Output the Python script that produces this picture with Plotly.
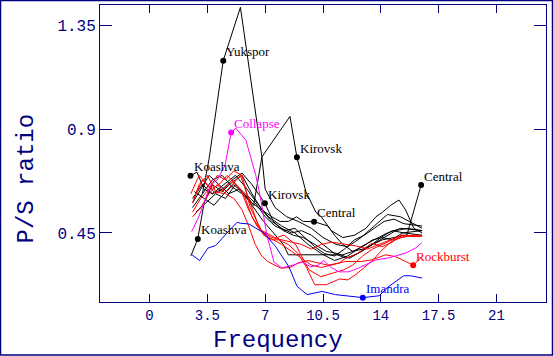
import plotly.graph_objects as go

NAVY = "#000080"

# ---- data ----
yukspor_x = [3.2, 3.6, 4.46, 5.5, 6.8, 7.0, 7.6, 8.3, 9.0, 9.8, 10.5, 11.3, 12.0, 12.8, 13.6, 14.4, 15.2, 16.5]
yukspor_y = [0.62, 0.77, 1.198, 1.43, 0.78, 0.64, 0.56, 0.52, 0.50, 0.47, 0.43, 0.40, 0.39, 0.43, 0.48, 0.53, 0.52, 0.47]

kirovsk1_x = [2.6, 3.1, 3.6, 4.2, 4.8, 5.4, 6.0, 6.3, 6.8, 8.5, 8.92, 9.46, 10.07, 10.4, 11.0, 11.7, 12.4, 13.1, 13.7, 14.1, 14.6, 15.1, 15.5, 16.0, 16.5]
kirovsk1_y = [0.58, 0.64, 0.70, 0.66, 0.62, 0.64, 0.60, 0.57, 0.78, 0.956, 0.779, 0.63, 0.54, 0.52, 0.46, 0.43, 0.44, 0.47, 0.52, 0.54, 0.57, 0.593, 0.55, 0.47, 0.45]

koashva1_x = [2.48, 2.87, 3.3, 3.8, 4.5, 5.2, 5.8, 6.5, 7.2, 8.0, 8.8, 9.6, 10.4, 11.2, 12.0, 12.8, 13.6, 14.4, 15.2, 16.5]
koashva1_y = [0.698, 0.714, 0.64, 0.62, 0.66, 0.70, 0.65, 0.58, 0.52, 0.48, 0.45, 0.40, 0.36, 0.33, 0.35, 0.39, 0.42, 0.45, 0.47, 0.46]

koashva2_x = [2.5, 2.92, 3.3, 3.8, 4.4, 5.0, 5.6, 6.2, 6.8, 7.4, 8.0, 8.6, 9.2, 9.8, 10.5, 11.2, 11.9, 12.6, 13.3, 14.0, 14.7, 15.4, 16.5]
koashva2_y = [0.35, 0.424, 0.58, 0.66, 0.63, 0.67, 0.70, 0.62, 0.55, 0.50, 0.47, 0.45, 0.46, 0.44, 0.40, 0.36, 0.34, 0.36, 0.39, 0.43, 0.46, 0.45, 0.44]

kirovsk2_x = [2.6, 3.2, 3.8, 4.4, 5.0, 5.6, 6.2, 6.98, 7.5, 8.1, 8.7, 9.3, 10.0, 10.7, 11.4, 12.1, 12.8, 13.5, 14.2, 14.9, 15.6, 16.5]
kirovsk2_y = [0.60, 0.66, 0.62, 0.64, 0.68, 0.71, 0.66, 0.579, 0.50, 0.46, 0.44, 0.43, 0.40, 0.37, 0.36, 0.34, 0.37, 0.40, 0.43, 0.46, 0.47, 0.46]

central1_x = [2.6, 3.2, 3.8, 4.4, 5.0, 5.6, 6.2, 6.8, 7.4, 7.9, 8.4, 8.9, 9.3, 9.96, 10.8, 11.2, 11.7, 12.3, 12.9, 13.5, 14.1, 14.7, 15.3, 16.5]
central1_y = [0.56, 0.62, 0.68, 0.70, 0.65, 0.62, 0.58, 0.55, 0.52, 0.50, 0.50, 0.52, 0.50, 0.499, 0.48, 0.44, 0.40, 0.37, 0.39, 0.42, 0.43, 0.42, 0.45, 0.46]

central2_x = [2.7, 3.3, 3.9, 4.5, 5.1, 5.7, 6.3, 6.9, 7.5, 8.1, 8.4, 9.0, 9.6, 10.2, 11.0, 11.7, 12.3, 12.9, 13.5, 14.1, 14.8, 15.58, 16.44]
central2_y = [0.63, 0.60, 0.57, 0.62, 0.66, 0.62, 0.56, 0.50, 0.45, 0.40, 0.355, 0.355, 0.355, 0.355, 0.355, 0.355, 0.37, 0.38, 0.40, 0.42, 0.43, 0.441, 0.658]

black8_x = [2.8, 3.4, 4.0, 4.6, 5.2, 5.8, 6.4, 7.0, 7.6, 8.2, 8.8, 9.4, 10.0, 10.6, 11.2, 11.8, 12.4, 13.0, 13.6, 14.2, 14.8, 15.4, 16.5]
black8_y = [0.54, 0.58, 0.62, 0.60, 0.66, 0.62, 0.58, 0.52, 0.48, 0.46, 0.47, 0.43, 0.39, 0.36, 0.35, 0.38, 0.42, 0.44, 0.47, 0.50, 0.51, 0.49, 0.48]

red1_x = [2.6, 3.0, 3.5, 4.0, 4.5, 5.0, 5.5, 6.0, 6.5, 6.9, 7.4, 7.8, 8.4, 9.0, 9.5, 10.0, 10.7, 11.5, 12.0, 12.5, 13.0, 13.5, 14.0, 14.6, 15.2, 15.6, 16.5]
red1_y = [0.58, 0.66, 0.70, 0.63, 0.62, 0.66, 0.70, 0.60, 0.50, 0.44, 0.42, 0.42, 0.40, 0.36, 0.30, 0.225, 0.225, 0.25, 0.246, 0.27, 0.30, 0.33, 0.37, 0.41, 0.43, 0.436, 0.435]

rock_x = [2.5, 3.0, 3.5, 4.0, 4.5, 5.0, 5.5, 6.0, 6.5, 7.0, 7.5, 8.0, 8.6, 9.2, 9.8, 10.4, 11.0, 11.87, 12.85, 13.46, 14.29, 14.89, 15.5, 15.96, 16.4]
rock_y = [0.62, 0.70, 0.66, 0.62, 0.64, 0.68, 0.64, 0.55, 0.48, 0.44, 0.42, 0.40, 0.37, 0.34, 0.31, 0.30, 0.31, 0.326, 0.326, 0.333, 0.355, 0.347, 0.326, 0.31, 0.34]

red3_x = [2.6, 3.1, 3.6, 4.1, 4.6, 5.1, 5.6, 6.1, 6.74, 7.65, 8.13, 8.86, 9.26, 9.65, 10.37, 11.09, 11.76, 12.3, 12.9, 13.5, 14.1, 14.7, 15.3, 15.9, 16.5]
red3_y = [0.54, 0.60, 0.64, 0.70, 0.68, 0.72, 0.70, 0.56, 0.463, 0.428, 0.441, 0.398, 0.341, 0.29, 0.26, 0.277, 0.29, 0.31, 0.35, 0.38, 0.40, 0.42, 0.43, 0.44, 0.44]

red4_x = [2.6, 3.1, 3.6, 4.1, 4.6, 5.1, 5.6, 6.0, 6.4, 6.74, 7.14, 7.95, 8.5, 9.0, 9.6, 10.2, 10.8, 11.47, 11.87, 12.47, 13.27, 13.46, 14.08, 14.7, 15.27, 16.4]
red4_y = [0.52, 0.56, 0.62, 0.66, 0.62, 0.60, 0.55, 0.48, 0.40, 0.355, 0.326, 0.297, 0.30, 0.32, 0.33, 0.32, 0.31, 0.319, 0.34, 0.355, 0.398, 0.405, 0.39, 0.41, 0.441, 0.434]

red5_x = [2.7, 3.2, 3.7, 4.2, 4.7, 5.2, 5.7, 6.2, 6.74, 7.4, 8.0, 8.6, 9.2, 9.8, 10.4, 11.0, 11.47, 12.47, 13.2, 13.9, 14.6, 15.27, 16.4]
red5_y = [0.60, 0.68, 0.64, 0.66, 0.70, 0.66, 0.62, 0.52, 0.46, 0.43, 0.42, 0.41, 0.40, 0.38, 0.40, 0.41, 0.405, 0.394, 0.38, 0.40, 0.42, 0.44, 0.434]

collapse_x = [2.55, 2.98, 3.29, 3.7, 4.1, 4.57, 4.94, 5.22, 5.83, 6.13, 6.43, 6.74, 6.92, 7.1, 7.53, 8.01, 8.74, 9.22, 9.76, 10.2, 10.55, 11.0, 11.47, 12.06, 12.67, 13.27, 13.7, 14.49, 15.52, 16.12, 16.48]
collapse_y = [0.456, 0.52, 0.58, 0.66, 0.68, 0.744, 0.886, 0.905, 0.853, 0.779, 0.701, 0.593, 0.524, 0.441, 0.324, 0.298, 0.311, 0.324, 0.303, 0.31, 0.33, 0.30, 0.281, 0.281, 0.298, 0.32, 0.333, 0.342, 0.363, 0.385, 0.407]

imandra_x = [2.52, 3.03, 3.53, 4.0, 4.68, 5.30, 5.51, 6.01, 6.92, 7.63, 8.43, 8.93, 9.54, 10.45, 11.26, 12.06, 12.91, 13.9, 14.49, 15.39, 15.8, 16.5]
imandra_y = [0.358, 0.330, 0.384, 0.395, 0.449, 0.496, 0.492, 0.489, 0.45, 0.391, 0.304, 0.218, 0.182, 0.196, 0.182, 0.177, 0.169, 0.177, 0.218, 0.264, 0.264, 0.254]

label_names = ["Yukspor", "Collapse", "Kirovsk", "Koashva", "Koashva", "Kirovsk", "Central", "Central", "Rockburst", "Imandra"]
label_x = [4.46, 4.94, 8.92, 2.48, 2.92, 6.98, 9.96, 16.44, 15.96, 12.91]
label_y = [1.198, 0.886, 0.779, 0.698, 0.424, 0.579, 0.499, 0.658, 0.31, 0.169]
label_colors = ["#000000", "#FF00FF", "#000000", "#000000", "#000000", "#000000", "#000000", "#000000", "#FF0000", "#0000FF"]

x_ticks = [0, 3.5, 7, 10.5, 14, 17.5, 21]
x_tick_text = ["0", "3.5", "7", "10.5", "14", "17.5", "21"]
y_ticks = [0.45, 0.9, 1.35]
y_tick_text = ["0.45", "0.9", "1.35"]

series = [
    (yukspor_x, yukspor_y, "#000000"),
    (kirovsk1_x, kirovsk1_y, "#000000"),
    (koashva1_x, koashva1_y, "#000000"),
    (koashva2_x, koashva2_y, "#000000"),
    (kirovsk2_x, kirovsk2_y, "#000000"),
    (central1_x, central1_y, "#000000"),
    (central2_x, central2_y, "#000000"),
    (black8_x, black8_y, "#000000"),
    (red1_x, red1_y, "#FF0000"),
    (rock_x, rock_y, "#FF0000"),
    (red3_x, red3_y, "#FF0000"),
    (red4_x, red4_y, "#FF0000"),
    (red5_x, red5_y, "#FF0000"),
    (collapse_x, collapse_y, "#FF00FF"),
    (imandra_x, imandra_y, "#0000FF"),
]

fig = go.Figure()
for xs, ys, c in series:
    fig.add_trace(go.Scatter(x=xs, y=ys, mode="lines", line=dict(color=c, width=1),
                             showlegend=False, hoverinfo="skip"))

fig.add_trace(go.Scatter(x=label_x, y=label_y, mode="markers",
                         marker=dict(color=label_colors, size=6), showlegend=False,
                         hoverinfo="skip"))

for name, lx, ly, c in zip(label_names, label_x, label_y, label_colors):
    fig.add_annotation(x=lx, y=ly, text=name, showarrow=False, xanchor="left", yanchor="middle",
                       xshift=1, yshift=9,
                       font=dict(family="Liberation Serif", size=13, color=c))

L, R, T, B = 100, 8, 5, 54
W, H = 554, 356
pw, ph = W - L - R, H - T - B

def px(xp):
    return (xp - L) / pw

def py(yp):
    return (H - B - yp) / ph

fig.add_annotation(x=px(277.5), y=py(340), xref="paper", yref="paper", text="Frequency",
                   showarrow=False, xanchor="center", yanchor="middle",
                   font=dict(family="Liberation Mono", size=24, color=NAVY))
fig.add_annotation(x=px(26), y=py(178.5), xref="paper", yref="paper", text="P/S ratio",
                   showarrow=False, xanchor="center", yanchor="middle", textangle=-90,
                   font=dict(family="Liberation Mono", size=24, color=NAVY))

fig.add_shape(type="rect", xref="paper", yref="paper",
              x0=px(0.5), x1=px(552.5), y0=py(355), y1=py(0.5),
              line=dict(color=NAVY, width=1.5), fillcolor="rgba(0,0,0,0)")

fig.update_xaxes(range=[-3, 24], tickvals=x_ticks, ticktext=x_tick_text,
                 ticks="inside", ticklen=8, tickcolor=NAVY, tickwidth=1,
                 showline=True, linecolor=NAVY, linewidth=1, mirror="ticks",
                 showgrid=False, zeroline=False,
                 tickfont=dict(family="Liberation Mono", size=14, color=NAVY))
fig.update_yaxes(range=[0.15, 1.44], tickvals=y_ticks, ticktext=y_tick_text,
                 ticks="inside", ticklen=12, tickcolor=NAVY, tickwidth=1,
                 showline=True, linecolor=NAVY, linewidth=1, mirror="ticks",
                 showgrid=False, zeroline=False,
                 tickfont=dict(family="Liberation Mono", size=16, color=NAVY))

fig.update_layout(width=W, height=H, margin=dict(l=L, r=R, t=T, b=B, pad=0),
                  plot_bgcolor="white", paper_bgcolor="white", showlegend=False,
                  hovermode=False)

fig.write_html("out.html", config={"displayModeBar": False},
               post_script="document.body.style.margin='0';document.body.style.overflow='hidden';")
